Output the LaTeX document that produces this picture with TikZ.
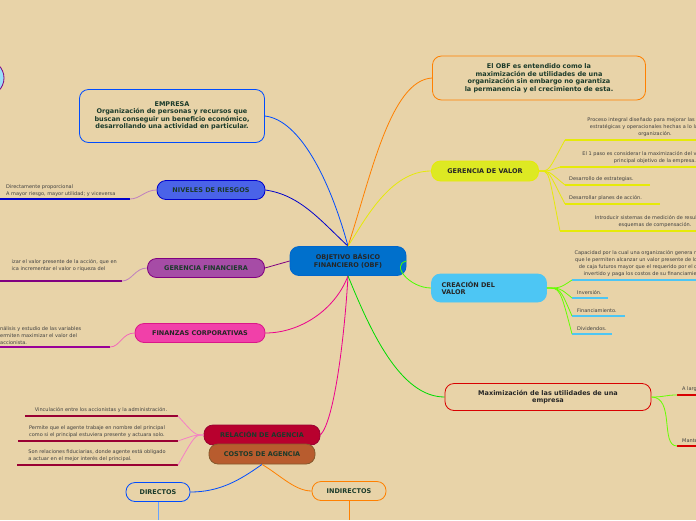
\documentclass[tikz,border=0pt]{standalone}
\usepackage{fontspec}
\setmainfont{DejaVu Sans}
\newcommand\nohyph{\hyphenpenalty=10000 \exhyphenpenalty=10000 }
\begin{document}
\begin{tikzpicture}[x=1pt,y=-1pt,
  main/.style={rounded corners=9pt,draw,line width=0.8pt,font=\fontsize{6.5}{7.5}\selectfont\bfseries\nohyph,text=black!85,align=center,inner sep=2pt},
  leaf/.style={font=\fontsize{5}{7}\selectfont,text=black!75,inner sep=0pt},
  con/.style={line width=0.8pt},
  ul/.style={line width=1.2pt}]
\definecolor{bg}{HTML}{E8D3A8}
\definecolor{tg}{HTML}{1A3A2A}
\definecolor{niv}{HTML}{4A63E8}
\fill[bg] (0,0) rectangle (696,520);
\useasboundingbox (0,0) rectangle (696,520);
\begin{scope}
\clip (0,0) rectangle (696,520);
\filldraw[fill=cyan!40!white,draw=violet,line width=0.8pt] (-14,78) circle (18);
\node[main,fill=blue!45!cyan!80!black,draw=blue!50!cyan!80!black,minimum width=116pt,minimum height=29pt] (c) at (348,261) {OBJETIVO BÁSICO\\FINANCIERO (OBF)};
\node[main,draw=blue!70!cyan,text=tg,minimum width=185pt,minimum height=53pt,text width=160pt] (emp) at (172,116) {EMPRESA\\Organización de personas y recursos que buscan conseguir un beneficio económico, desarrollando una actividad en particular.};
\node[main,fill=niv,draw=blue!80!black,minimum width=108pt,minimum height=19pt,text=tg] (niv) at (211,190) {NIVELES DE RIESGOS};
\node[main,fill=violet!70!white,draw=violet,minimum width=117pt,minimum height=19pt,text=tg] (gf) at (206,268) {GERENCIA FINANCIERA};
\node[main,fill=magenta!75!white,draw=magenta!80!violet,minimum width=130pt,minimum height=19pt] (fc) at (200,333) {FINANZAS CORPORATIVAS};
\node[main,fill=purple!80!red!90!black,draw=purple!80!black,minimum width=116pt,minimum height=20pt,text=tg] (rel) at (262,435) {RELACIÓN DE AGENCIA};
\node[main,fill=brown!80!red!90!black,draw=brown!70!black,minimum width=106pt,minimum height=20pt,text=tg] (cos) at (262,454) {COSTOS DE AGENCIA};
\node[main,draw=blue!70!cyan,text=tg,minimum width=64pt,minimum height=19pt] (dir) at (158,492) {DIRECTOS};
\node[main,draw=orange,text=tg,minimum width=74pt,minimum height=19pt] (ind) at (349,491) {INDIRECTOS};
\node[main,draw=orange,text=tg,minimum width=213pt,minimum height=44pt,text width=180pt] (obf) at (539,78) {El OBF es entendido como la maximización de utilidades de una organización sin embargo no garantiza la permanencia y el crecimiento de esta.};
\node[main,fill=yellow!85!green!90!white,draw=yellow!90!green,minimum width=107pt,minimum height=20pt] (gv) at (485,171) {GERENCIA DE VALOR};
\node[main,fill=cyan!70!white,draw=cyan!70!white,minimum width=115pt,minimum height=28pt,text width=95pt,align=left] (cv) at (489,288) {CREACIÓN DEL\\VALOR};
\node[main,draw=red!85!black,minimum width=206pt,minimum height=27pt] (mx) at (548,397) {Maximización de las utilidades de una\\empresa};
\draw[con,blue!70!cyan] (c.north) .. controls (330,180) and (300,120) .. (emp.east);
\draw[con,blue!80!black] (c.north) .. controls (320,220) and (300,195) .. (niv.east);
\draw[con,violet] (c.west) -- (gf.east);
\draw[con,magenta] (c.south) .. controls (335,310) and (300,333) .. (fc.east);
\draw[con,magenta] (c.south) .. controls (345,330) and (335,420) .. (rel.east);
\draw[con,blue!70!cyan] (cos.south) .. controls (240,480) and (220,492) .. (dir.east);
\draw[con,orange] (cos.south) .. controls (280,475) and (295,491) .. (ind.west);
\draw[con,blue!60!cyan!60!white] (dir.south) -- (158,520);
\draw[con,orange] (ind.south) -- (349,520);
\draw[con,orange] (c.north) .. controls (370,180) and (390,80) .. (obf.west);
\draw[con,yellow!90!green] (c.north) .. controls (365,220) and (390,171) .. (gv.west);
\draw[con,green!70!yellow] (c.east) .. controls (390,265) and (410,288) .. (cv.west);
\draw[con,green!80!black!70!green] (c.south) .. controls (370,330) and (400,397) .. (mx.west);
\coordinate (nl) at (130,199); \draw[ul,blue!80!black] (nl) -- (0,199);
\draw[con,violet!50!white] (niv.west) .. controls (145,190) and (140,199) .. (nl);
\node[leaf,anchor=south west,align=left] at (6,197) {Directamente proporcional\\ A mayor riesgo, mayor utilidad; y viceversa};
\coordinate (gl) at (122,281); \draw[ul,violet] (gl) -- (0,281);
\draw[con,violet!50!white] (gf.west) .. controls (135,268) and (132,281) .. (gl);
\node[leaf,anchor=south east,align=left] at (117,272) {izar el valor presente de la acción, que en\\ica incrementar el valor o riqueza del};
\coordinate (fl) at (110,347); \draw[ul,violet!80!magenta] (fl) -- (0,347);
\draw[con,magenta!60!white] (fc.west) .. controls (122,333) and (120,347) .. (fl);
\node[leaf,anchor=south west,align=left] at (0,345) {nálisis y estudio de las variables\\ermiten maximizar el valor del\\ accionista.};
\coordinate (r1) at (178,416); \coordinate (r2) at (178,441); \coordinate (r3) at (178,465);
\draw[ul,purple!80!black] (r1) -- (25,416);
\draw[ul,purple!80!black] (r2) -- (18,441);
\draw[ul,purple!80!black] (r3) -- (17,465);
\foreach \r in {r1,r2,r3} \draw[con,magenta!50!white] (rel.west) .. controls (195,435) and (195,435) .. (\r);
\node[leaf,anchor=south] at (101,413) {Vinculación entre los accionistas y la administración.};
\node[leaf,anchor=south,align=left] at (97,438) {Permite que el agente trabaje en nombre del principal\\como si el principal estuviera presente y actuara solo.};
\node[leaf,anchor=south,align=left] at (97,462) {Son relaciones fiduciarias, donde agente está obligado\\a actuar en el mejor interés del principal.};
\coordinate (v1) at (565,140); \coordinate (v2) at (560,167); \coordinate (v3) at (565,185); \coordinate (v4) at (565,204); \coordinate (v5) at (560,231);
\draw[ul,yellow!90!green] (v1) -- (696,140);
\draw[ul,yellow!90!green] (v2) -- (696,167);
\draw[ul,yellow!90!green] (v3) -- (650,185);
\draw[ul,yellow!90!green] (v4) -- (660,204);
\draw[ul,yellow!90!green] (v5) -- (696,231);
\foreach \v in {v1,v2,v3,v4,v5} \draw[con,yellow!90!green] (gv.east) .. controls (550,171) and (548,171) .. (\v);
\node[leaf,anchor=south,align=center] at (655,137) {Proceso integral diseñado para mejorar las decisiones\\estratégicas y operacionales hechas a lo largo de la\\organización.};
\node[leaf,anchor=south,align=center] at (655,164) {El 1 paso es considerar la maximización del valor como el\\principal objetivo de la empresa.};
\node[leaf,anchor=south west] at (569,182) {Desarrollo de estrategias.};
\node[leaf,anchor=south west] at (569,201) {Desarrollar planes de acción.};
\node[leaf,anchor=south,align=center] at (655,228) {Introducir sistemas de medición de resultados y\\esquemas de compensación.};
\coordinate (k1) at (572,280); \coordinate (k2) at (572,298); \coordinate (k3) at (572,316); \coordinate (k4) at (572,334);
\draw[ul,cyan!70!white] (k1) -- (696,280);
\draw[ul,cyan!70!white] (k2) -- (608,298);
\draw[ul,cyan!70!white] (k3) -- (625,316);
\draw[ul,cyan!70!white] (k4) -- (612,334);
\foreach \k in {k1,k2,k3,k4} \draw[con,green!60!yellow] (cv.east) .. controls (560,288) and (560,288) .. (\k);
\node[leaf,anchor=south,align=center] at (645,277) {Capacidad por la cual una organización genera recursos\\que le permiten alcanzar un valor presente de los flujos\\de caja futuros mayor que el requerido por el capital\\invertido y paga los costos de su financiamiento.};
\node[leaf,anchor=south west] at (577,295) {Inversión.};
\node[leaf,anchor=south west] at (577,313) {Financiamiento.};
\node[leaf,anchor=south west] at (577,331) {Dividendos.};
\coordinate (m1) at (677,395); \coordinate (m2) at (677,446);
\draw[ul,red!85!black] (m1) -- (696,395);
\draw[ul,red!85!black] (m2) -- (696,446);
\draw[con,green!60!yellow] (mx.east) .. controls (665,397) and (665,395) .. (m1);
\draw[con,green!60!yellow] (mx.east) .. controls (675,397) and (660,446) .. (m2);
\node[leaf,anchor=south west] at (682,392) {A largo plazo};
\node[leaf,anchor=south west] at (682,443) {Mantener};
\end{scope}
\end{tikzpicture}
\end{document}
